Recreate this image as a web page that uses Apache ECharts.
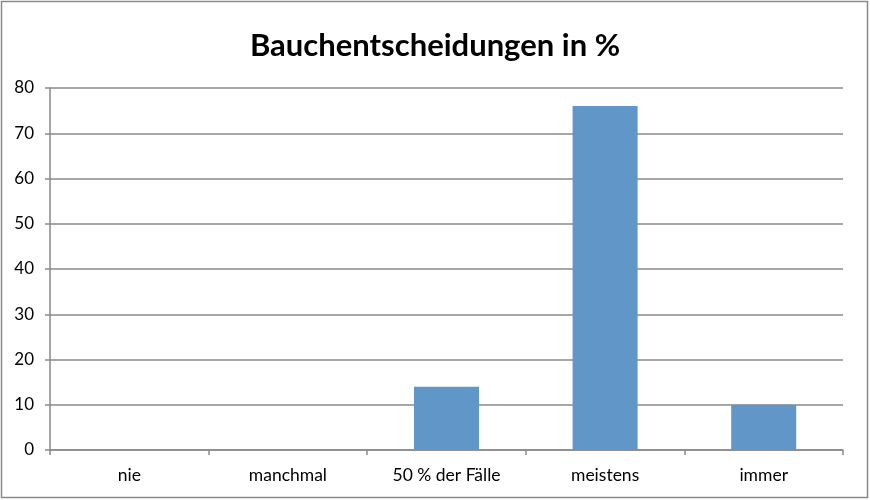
<!DOCTYPE html>
<html><head><meta charset="utf-8">
<script src="https://cdn.jsdelivr.net/npm/echarts@6/dist/echarts.min.js"></script>
<style>html,body{margin:0;padding:0;background:#fff}#c{width:870px;height:500px}</style>
</head><body><div id="c"></div>
<script>
const categories = ['nie', 'manchmal', '50 % der Fälle', 'meistens', 'immer'];
const values = [0, 0, 14, 76, 10];
const yTicks = [0, 10, 20, 30, 40, 50, 60, 70, 80];

const chart = echarts.init(document.getElementById('c'), null, {renderer: 'canvas'});
const font = 'Lato, "Open Sans", sans-serif';
chart.setOption({
  animation: false,
  backgroundColor: '#fff',
  title: {
    text: 'Bauchentscheidungen in %',
    left: 'center', top: 25,
    textStyle: {fontFamily: font, fontWeight: 'bold', fontSize: 31, color: '#000'}
  },
  graphic: [{
    type: 'rect', shape: {x: 1.5, y: 1.5, width: 866, height: 496},
    style: {fill: 'none', stroke: '#8a8a8a', lineWidth: 1.5}, silent: true
  }],
  grid: {left: 50, right: 27, top: 88, bottom: 50},
  xAxis: {
    type: 'category', data: categories,
    axisLine: {lineStyle: {color: '#8a8a8a', width: 1.5}},
    axisTick: {show: true, length: 5, inside: false, alignWithLabel: false, lineStyle: {color: '#8a8a8a', width: 1.5}},
    axisLabel: {fontFamily: font, fontSize: 17.5, color: '#000', margin: 16}
  },
  yAxis: {
    type: 'value', min: yTicks[0], max: yTicks[yTicks.length - 1], interval: 10,
    axisLine: {show: true, lineStyle: {color: '#8a8a8a', width: 1.5}},
    axisTick: {show: true, length: 5, lineStyle: {color: '#8a8a8a', width: 1.5}},
    axisLabel: {fontFamily: font, fontSize: 17, color: '#000', margin: 16},
    splitLine: {lineStyle: {color: '#8a8a8a', width: 1.5}}
  },
  series: [{
    type: 'bar', data: values, barCategoryGap: '59%',
    itemStyle: {color: '#6097c8'}
  }]
});
</script></body></html>
